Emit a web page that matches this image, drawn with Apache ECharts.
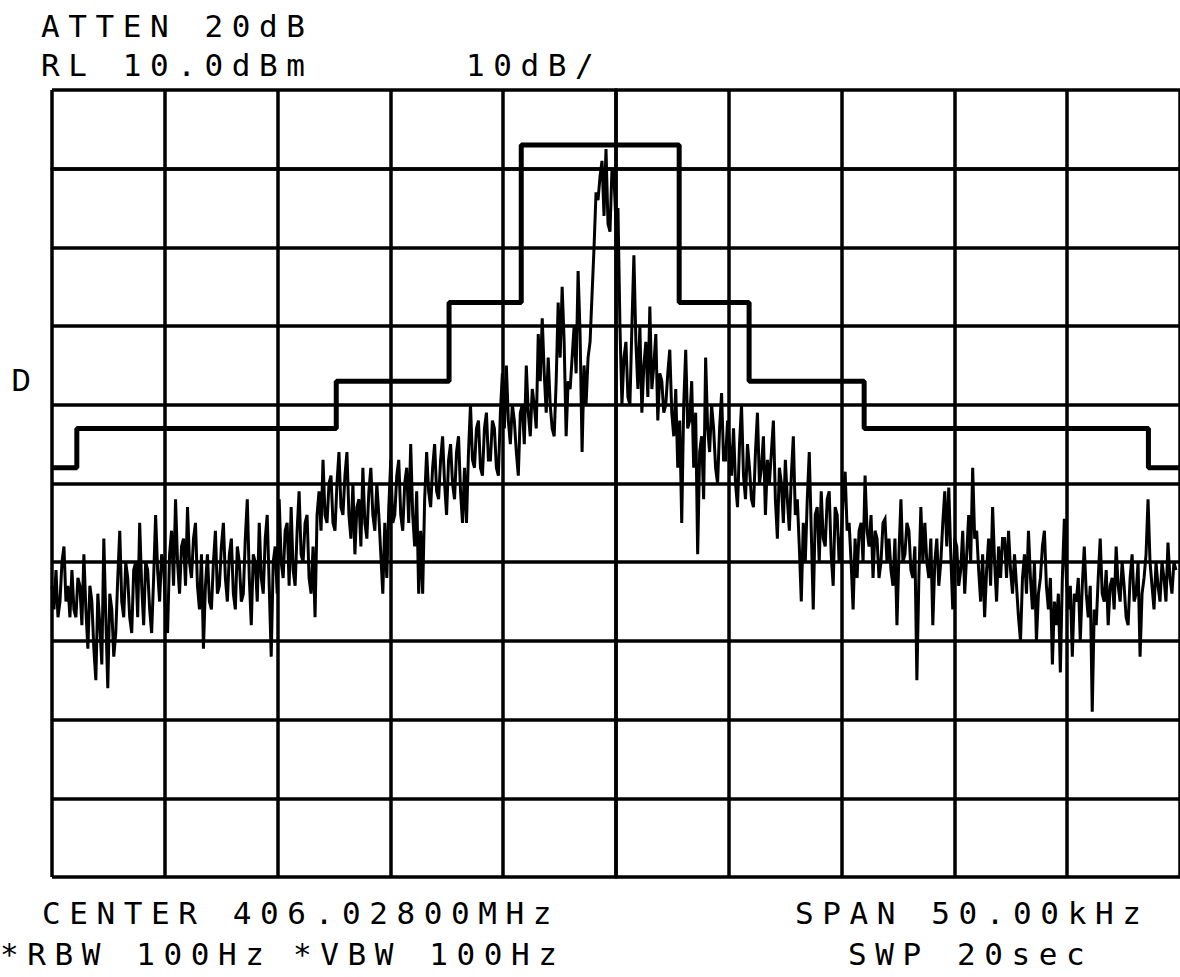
<!DOCTYPE html>
<html>
<head>
<meta charset="utf-8">
<script src="https://cdn.jsdelivr.net/npm/echarts@6/dist/echarts.min.js"></script>
<style>
  html, body { margin: 0; padding: 0; background: #fff; }
  #chart { width: 1180px; height: 977px; }
  #chart svg text { letter-spacing: 8.6px !important; }
</style>
</head>
<body>
<div id="chart"></div>
<script>
// ---- Instrument settings (text) ----
const headerLines = ['ATTEN 20dB', 'RL 10.0dBm'];
const scaleLabel = '10dB/';
const markerLabel = 'D';
const footerLeft = 'CENTER 406.02800MHz';
const footerRight = 'SPAN 50.00kHz';
const footerBottom = ['*RBW 100Hz', '*VBW 100Hz', 'SWP 20sec'];

// ---- Axes (frequency offset from centre, kHz; level, dBm) ----
const freqMinKHz = -25, freqMaxKHz = 25, freqDivKHz = 5;
const levelMinDbm = -90, levelMaxDbm = 10, levelDivDb = 10;

// ---- Emission mask: segment start frequencies (kHz) and levels (dBm) ----
const maskStartKHz = [-25, -23.9, -12.4, -7.4, -4.2, 2.8, 5.9, 11.0, 23.6];
const maskLevelDbm = [-38, -33, -27, -17, 3, -17, -27, -33, -38];
const maskEndKHz = 25;

// ---- Measured trace (dBm), equally spaced sweep samples across the visible span ----
const traceStartKHz = -25, traceEndKHz = 24.82;
const traceDbm = [
  -53,-56, -51,-57, -55,-50, -48,-55, -53,-57, -51,-56, -57,-52, -53,-58, -49,-56, -61,-53,
  -55,-61, -65,-54, -58,-63, -47,-57, -66,-54, -56,-62, -59,-52, -46,-55, -57,-50, -52,-57,
  -59,-51, -50,-57, -45,-53, -58,-50, -51,-56, -59,-52, -44,-51, -55,-49, -50,-57, -59,-49,
  -46,-53, -42,-50, -54,-48, -47,-53, -43,-50, -52,-47, -45,-53, -56,-49, -61,-53, -49,-55,
  -56,-50, -46,-54, -53,-48, -45,-52, -55,-49, -47,-54, -56,-48, -50,-55, -54,-47, -42,-52,
  -58,-49, -50,-55, -45,-52, -54,-47, -44,-53, -62,-50, -48,-54, -42,-50, -52,-46, -45,-53,
  -43,-51, -53,-46, -41,-49, -50,-45, -44,-52, -54,-48, -57,-44, -41,-46, -37,-44, -45,-40,
  -39,-45, -46,-40, -36,-43, -44,-39, -36,-44, -47,-40, -49,-43, -42,-48, -38,-45, -47,-41,
  -38,-44, -46,-40, -44,-49, -54,-45, -52,-43, -37,-45, -44,-39, -37,-44, -46,-40, -38,-45,
  -35,-44, -48,-41, -54,-46, -54,-42, -36,-41, -43,-38, -35,-41, -42,-37, -34,-40, -44,-37,
  -35,-40, -42,-36, -34,-41, -45,-38, -45,-36, -30,-37, -38,-33, -32,-38, -39,-33, -31,-37,
  -37,-32, -33,-38, -39,-31, -26,-33, -25,-32, -35,-30, -32,-36, -39,-31, -30,-35, -25,-31,
  -34,-28, -30,-33, -21,-27, -19,-26, -31,-24, -30,-33, -34,-27, -17,-24, -15,-22, -34,-27,
  -28,-24, -20,-26, -13,-21, -36,-25, -30,-24, -22,-16, -10,-3, -4,-1, 1,-6, 2.5,-7,
  -8,0, -1,-7, -5,-20, -30,-24, -22,-29, -30,-20, -11,-22, -28,-20, -31,-25, -22,-29,
  -17.5,-28, -25,-21, -32,-26, -27,-31, -30,-26, -23,-31, -34,-28, -38,-32, -45,-30, -23,-33,
  -32,-27, -38,-31, -49,-36, -34,-42, -24,-33, -36,-30, -33,-38, -40,-33, -28.5,-37, -37,-32,
  -35,-39, -33,-40, -43,-35, -30,-39, -42,-35, -38,-42, -43,-36, -31,-40, -38,-34, -44,-37,
  -40,-36, -32,-42, -47,-38, -40,-45, -37,-42, -46,-39, -34,-44, -42,-48, -55,-45, -50,-42,
  -36,-46, -56,-44, -43,-50, -41,-47, -48,-42, -41,-49, -53,-43, -44,-50, -47,-42, -38.5,-46,
  -45,-50, -56,-47, -52,-46, -45,-50, -39,-46, -48,-44, -52,-46, -47,-52, -50,-45, -44.5,-50,
  -47,-51, -53,-47, -58,-49, -42,-50, -49,-45, -46,-51, -52,-48, -65,-52, -43,-50, -45,-50,
  -52,-47, -58,-50, -47,-53, -50,-45, -41,-48, -40.5,-49, -56,-47, -48,-53, -51,-46, -54,-49,
  -44,-50, -38,-47, -46,-51, -55,-49, -57,-51, -47,-53, -43,-50, -55,-48, -52,-47, -47,-52,
  -46,-51, -54,-49, -53,-57, -60,-52, -49,-54, -46,-52, -56,-50, -60,-54, -52,-48, -46,-53,
  -56,-52, -63,-55, -58,-54, -64,-52, -44.5,-52, -56,-53, -62,-54, -55,-52, -60,-53, -48,-54,
  -57,-53, -69,-56, -58,-52, -47,-54, -55,-51, -58,-53, -52,-56, -48,-53, -55,-50, -53,-57,
  -58,-52, -49,-55, -54,-50, -62,-54, -52,-49, -42,-50, -53,-56, -50,-53, -55,-50, -52,-55,
  -47.5,-52, -54,-50, -51
];

// ---- Build series data from the arrays ----
const traceStep = (traceEndKHz - traceStartKHz) / (traceDbm.length - 1);
const traceData = traceDbm.map((v, i) => [traceStartKHz + i * traceStep, v]);
const maskData = maskStartKHz.map((f, i) => [f, maskLevelDbm[i]]);
maskData.push([maskEndKHz, maskLevelDbm[maskLevelDbm.length - 1]]);

const FONT = '"DejaVu Sans Mono", "Liberation Mono", monospace';
function txt(str, x, y, size, family) {
  return {
    type: 'text', left: x, top: y,
    style: { text: str, fill: '#000', fontSize: size, fontFamily: family || FONT, fontWeight: 'normal' }
  };
}

const chart = echarts.init(document.getElementById('chart'), null, { renderer: 'svg' });
chart.setOption({
  backgroundColor: '#ffffff',
  animation: false,
  grid: { left: 52, top: 90, right: -4, bottom: 100, containLabel: false },
  xAxis: {
    type: 'value', min: freqMinKHz, max: freqMaxKHz, interval: freqDivKHz,
    axisLabel: { show: false }, axisTick: { show: false },
    axisLine: { show: true, lineStyle: { color: '#000', width: 3.5 } },
    splitLine: { show: true, showMinLine: true, showMaxLine: true, lineStyle: { color: '#000', width: 3.5 } }
  },
  yAxis: {
    type: 'value', min: levelMinDbm, max: levelMaxDbm, interval: levelDivDb,
    axisLabel: { show: false }, axisTick: { show: false },
    axisLine: { show: true, lineStyle: { color: '#000', width: 3.5 } },
    splitLine: { show: true, showMinLine: true, showMaxLine: true, lineStyle: { color: '#000', width: 3.5 } }
  },
  series: [
    {
      name: 'Mask', type: 'line', step: 'end', data: maskData,
      showSymbol: false, symbol: 'none', clip: true,
      lineStyle: { color: '#000', width: 5 }, z: 3
    },
    {
      name: 'Trace', type: 'line', data: traceData,
      showSymbol: false, symbol: 'none', clip: true,
      lineStyle: { color: '#000', width: 3, join: 'miter' }, z: 4
    }
  ],
  graphic: [
    txt(headerLines[0], 41, 10, 31),
    txt(headerLines[1], 41, 49, 31),
    txt(scaleLabel, 466, 49, 31),
    txt(markerLabel, 11, 366, 33, '"Liberation Mono", monospace'),
    txt(footerLeft, 42, 897, 31),
    txt(footerRight, 795, 897, 31),
    txt(footerBottom[0], 0, 938, 31),
    txt(footerBottom[1], 293, 938, 31),
    txt(footerBottom[2], 848, 938, 31)
  ]
});
</script>
</body>
</html>
